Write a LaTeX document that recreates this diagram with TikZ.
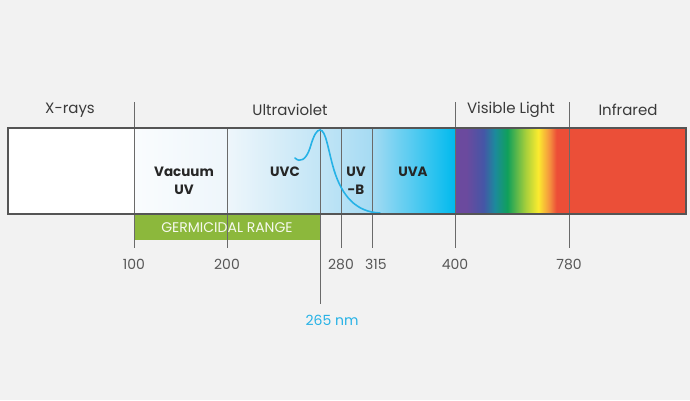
\documentclass[tikz,border=0pt]{standalone}
\usepackage{fontspec}
\setmainfont{Poppins}
\definecolor{bg}{HTML}{F2F2F2}
\definecolor{txt}{HTML}{3A3A3A}
\definecolor{tick}{HTML}{6A6A6A}
\definecolor{frame}{HTML}{555555}
\definecolor{germ}{HTML}{8CB83C}
\definecolor{cyanline}{HTML}{26B2E6}
\definecolor{irred}{HTML}{EB4F38}
\definecolor{c1}{HTML}{6B4A9E}
\definecolor{c2}{HTML}{4556A6}
\definecolor{c3}{HTML}{1C8A9C}
\definecolor{c4}{HTML}{10A05A}
\definecolor{c5}{HTML}{A7CF3B}
\definecolor{c6}{HTML}{FBEB2F}
\definecolor{c7}{HTML}{F4913E}
\definecolor{c8}{HTML}{EC4E37}
\definecolor{uvA}{HTML}{FAFCFE}
\definecolor{uvB}{HTML}{EEF6FB}
\definecolor{uvC}{HTML}{C2E5F6}
\definecolor{uvD}{HTML}{A6DBF3}
\definecolor{uvE}{HTML}{00BAEE}
\pgfdeclarehorizontalshading{uvgrad}{100bp}{%
  color(0bp)=(uvA);
  color(25bp)=(uvA);
  color(39.5bp)=(uvB);
  color(54bp)=(uvC);
  color(62bp)=(uvD);
  color(75bp)=(uvE);
  color(100bp)=(uvE)}
\pgfdeclarehorizontalshading{spectrum}{100bp}{%
  color(0bp)=(c1);
  color(30bp)=(c1);
  color(37.5bp)=(c2);
  color(42.5bp)=(c3);
  color(48bp)=(c4);
  color(56bp)=(c5);
  color(61.5bp)=(c6);
  color(66.5bp)=(c7);
  color(69.5bp)=(c8);
  color(100bp)=(c8)}
\begin{document}
\begin{tikzpicture}[x=1pt,y=-1pt,
  lbl/.style={text=txt,font=\fontsize{15}{18}\selectfont,anchor=center,inner sep=0},
  inbar/.style={text=black!85,font=\bfseries\fontsize{13.5}{18}\selectfont,align=center,anchor=center,inner sep=0},
  num/.style={text=txt!85,font=\fontsize{14}{16}\selectfont,anchor=center,inner sep=0},
  tk/.style={draw=tick,line width=1pt}]
\fill[bg] (0,0) rectangle (690,400);
\useasboundingbox (0,0) rectangle (690,400);
% bar fills
\fill[white] (8,128) rectangle (134,214);
\shade[shading=uvgrad] (134,128) rectangle (455,214);
\shade[shading=spectrum] (455,128) rectangle (569,214);
\fill[irred] (569,128) rectangle (686,214);
% germicidal range
\fill[germ] (134,215) rectangle (320,240);
\node[text=white!92!germ,font=\fontsize{14}{16}\selectfont,inner sep=0] (germ) at (227,228) {GERMICIDAL RANGE};
% tick coordinates
\coordinate (t100a) at (134,102); \coordinate (t100b) at (134,248);
\coordinate (t200a) at (227,128); \coordinate (t200b) at (227,248);
\coordinate (t265a) at (320,128); \coordinate (t265b) at (320,304);
\coordinate (t280a) at (341,128); \coordinate (t280b) at (341,248);
\coordinate (t315a) at (372,128); \coordinate (t315b) at (372,248);
\coordinate (t400a) at (455,102); \coordinate (t400b) at (455,248);
\coordinate (t780a) at (569,102); \coordinate (t780b) at (569,248);
\foreach \t in {100,200,265,280,315,400,780} \draw[tk] (t\t a) -- (t\t b);
% curve
\draw[cyanline,line width=1.6pt,line cap=round]
  (295,158) .. controls (300,163) and (306,160) .. (310,148)
  .. controls (314,134) and (317,130) .. (320,130)
  .. controls (326,130) and (328,150) .. (334,170)
  .. controls (342,196) and (356,212) .. (380,213);
% frame
\draw[frame,line width=1.8pt] (8,128) rectangle (686,214);
% labels
\node[lbl] (xr) at (70,110) {X-rays};
\node[lbl] (uv) at (290,110) {Ultraviolet};
\node[lbl] (vl) at (511,110) {Visible Light};
\node[lbl] (ir) at (628,110) {Infrared};
\node[inbar] (vac) at (184,181) {Vacuum\\UV};
\node[inbar] (uvc) at (285,172) {UVC};
\node[inbar] (uvb) at (356,181) {UV\\-B};
\node[inbar] (uva) at (413,172) {UVA};
\node[num] (n100) at (134,264) {100};
\node[num] (n200) at (227,264) {200};
\node[num] (n280) at (341,264) {280};
\node[num] (n315) at (376,264) {315};
\node[num] (n400) at (455,264) {400};
\node[num] (n780) at (569,264) {780};
\node[num,text=cyanline] (n265) at (332,320) {265 nm};
\end{tikzpicture}
\end{document}
